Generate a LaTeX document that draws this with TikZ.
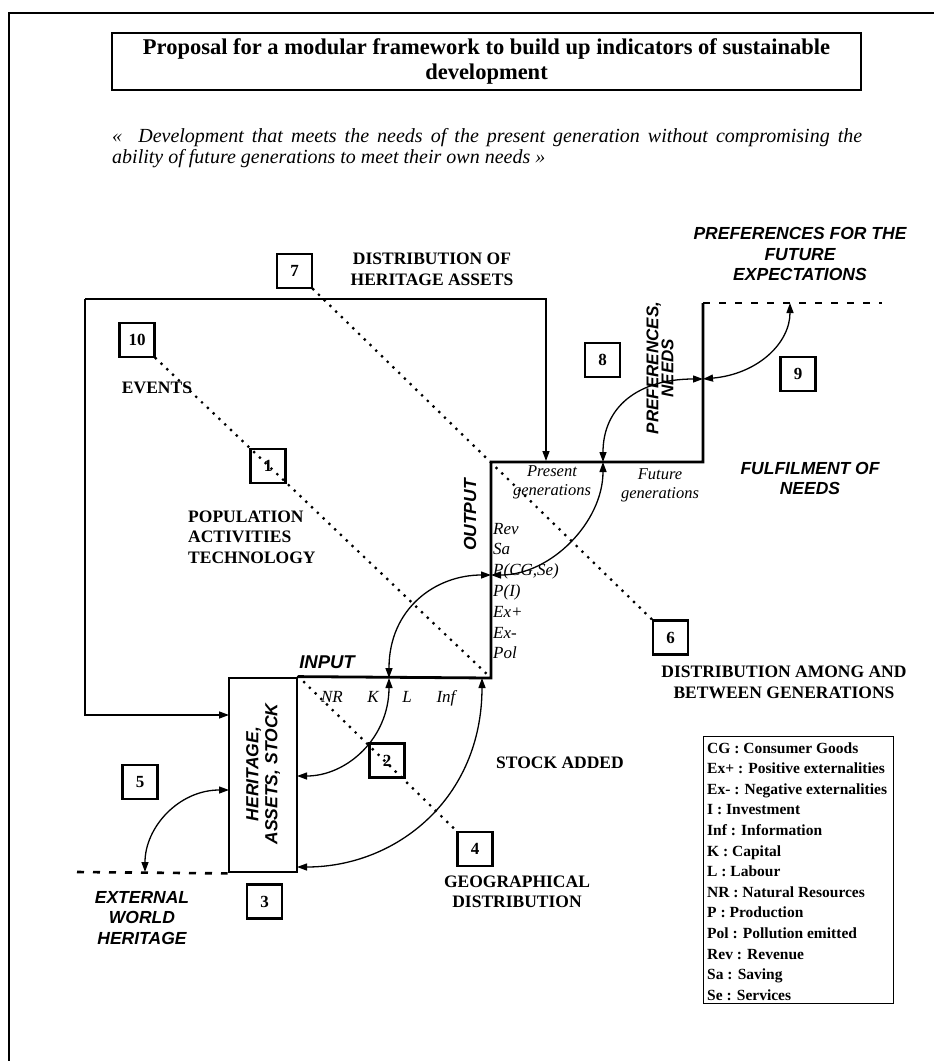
\documentclass[tikz,border=0pt]{standalone}
\usepackage{fontspec}
\setmainfont{Liberation Serif}
\setsansfont{Liberation Sans}
\usetikzlibrary{arrows.meta}
\tikzset{
  numbox/.style={draw, line width=2.4pt, minimum width=35pt, minimum height=34pt, inner sep=0pt, font=\fontsize{17}{17}\selectfont\bfseries},
  caps/.style={font=\fontsize{17.5}{20.5}\selectfont\bfseries, align=center, inner sep=0pt},
  capsf/.style={font=\fontsize{17.5}{20.5}\selectfont\sffamily\bfseries\itshape, align=center, inner sep=0pt},
  varlbl/.style={font=\fontsize{17}{20}\selectfont\itshape, inner sep=0pt},
  flow/.style={line width=2.8pt},
  feed/.style={line width=1.4pt, -{Triangle[length=10pt,width=7pt]}},
  link/.style={line width=1.3pt, {Triangle[length=10pt,width=7pt]}-{Triangle[length=10pt,width=7pt]}},
  dotline/.style={line width=3.2pt, line cap=round, dash pattern=on 0pt off 8pt},
  dashline/.style={line width=2.6pt, dash pattern=on 7pt off 9pt}
}

\begin{document}
\begin{tikzpicture}[x=1pt,y=-1pt]
  \useasboundingbox (0,0) rectangle (934,1061);
  \draw[line width=1.5pt] (9,1061) -- (9,13) -- (934,13);

  % title and quote
  \node[draw, line width=1.6pt, minimum width=749pt, minimum height=57pt, align=center,
        font=\fontsize{22.5}{25}\selectfont\bfseries] (title) at (486.5,61.5)
        {Proposal for a modular framework to build up indicators of sustainable\\development};
  \node[anchor=north west, inner sep=0pt, text width=750pt, align=justify,
        font=\fontsize{20}{21}\selectfont\itshape] (quote) at (112,128)
        {«\ \ Development that meets the needs of the present generation without compromising the\linebreak
         ability of future generations to meet their own needs »};

  % points on the main line
  \coordinate (corner1) at (491,678);
  \coordinate (corner2) at (491,462);
  \coordinate (corner3) at (703,462);
  \coordinate (corner4) at (703,303);
  \coordinate (futend) at (882,303);
  \coordinate (extend) at (77,872);
  \coordinate (jK) at (389,678);
  \coordinate (jInf) at (482,678);
  \coordinate (jP) at (491,575);
  \coordinate (jPres) at (603,462);
  \coordinate (jPref) at (703,379);
  \coordinate (jExp) at (790,303);
  \coordinate (fbleft) at (85,299);
  \coordinate (fbright) at (546,299);
  \coordinate (presin) at (546,461);
  \coordinate (fbin) at (229,715);

  % heritage box
  \node[draw, line width=2.8pt, minimum width=68pt, minimum height=194pt, inner sep=0pt] (herit) at (263,775) {};
  \node[capsf, rotate=90, font=\fontsize{17.5}{19}\selectfont\sffamily\bfseries\itshape] (heritlbl) at (263,774) {HERITAGE,\\ASSETS, STOCK};
  \coordinate (hK) at (297,776);
  \coordinate (hInf) at (297,867);
  \coordinate (hExt) at (229,790);
  \coordinate (wExt) at (145,872);

  \draw[flow] (herit.north east) -- (corner1) -- (corner2) -- (corner3) -- (corner4);
  \draw[dashline] (corner4) -- (futend);
  \draw[dashline] (extend) -- (herit.south west);

  % feedback of heritage assets
  \draw[feed] (fbleft) -- (fbright) -- (presin);
  \draw[feed] (fbleft) -- (fbleft |- fbin) -- (fbin);

  % numbered boxes
  \foreach \n/\p in {7/{294.5,271}, 10/{137,340}, 1/{268,466}, 8/{602.5,360}, 9/{798,374},
                     6/{670.5,637.5}, 2/{387,760.5}, 4/{475,849}, 5/{140,782}, 3/{264.5,901.5}}
    \node[numbox] (box\n) at (\p) {\n};

  % dotted links
  \draw[dotline] (box7.south east) -- (box6.north west);
  \draw[dotline] (box10.south east) -- (corner1);
  \draw[dotline] (herit.north east) -- (box4.north west);

  % two-way arrows
  \draw[link] (jK) .. controls +(0,-70) and +(-55,0) .. (jP);
  \draw[link] (jP) .. controls +(60,0) and +(0,60) .. (jPres);
  \draw[link] (jPres) .. controls +(0,-55) and +(-65,0) .. (jPref);
  \draw[link] (jPref) .. controls +(55,-5) and +(0,40) .. (jExp);
  \draw[link] (jK) .. controls +(0,60) and +(50,0) .. (hK);
  \draw[link] (jInf) .. controls +(0,120) and +(100,0) .. (hInf);
  \draw[link] (hExt) .. controls +(-50,0) and +(0,-45) .. (wExt);

  % labels
  \node[caps] (distherit) at (432,269.5) {DISTRIBUTION OF\\HERITAGE ASSETS};
  \node[caps] (events) at (157,388) {EVENTS};
  \node[caps, align=left, anchor=west] (popul) at (188,537) {POPULATION\\ACTIVITIES\\TECHNOLOGY};
  \node[capsf, rotate=90] (outlbl) at (470,515) {OUTPUT};
  \node[capsf, font=\fontsize{18.5}{20}\selectfont\sffamily\bfseries\itshape] (inlbl) at (327,662) {INPUT};
  \node[capsf, rotate=90, font=\fontsize{17}{15}\selectfont\sffamily\bfseries\itshape] (prefs) at (660,368) {PREFERENCES,\\NEEDS};
  \node[capsf] (expect) at (800,254) {PREFERENCES FOR THE\\FUTURE\\EXPECTATIONS};
  \node[capsf] (fulfil) at (810,478.5) {FULFILMENT OF\\NEEDS};
  \node[caps] (stock) at (560,763) {STOCK ADDED};
  \node[caps] (geog) at (517,892) {GEOGRAPHICAL\\DISTRIBUTION};
  \node[caps] (distgen) at (784,682.5) {DISTRIBUTION AMONG AND\\BETWEEN GENERATIONS};
  \node[capsf] (world) at (142,918) {EXTERNAL\\WORLD\\HERITAGE};

  \node[varlbl, align=center, font=\fontsize{16.5}{19}\selectfont\itshape] (present) at (552,482) {Present\\generations};
  \node[varlbl, align=center, font=\fontsize{16.5}{19}\selectfont\itshape] (future) at (660,485) {Future\\generations};

  \foreach \i/\t in {0/Rev, 1/Sa, 2/{P(CG,Se)}, 3/{P(I)}, 4/{Ex+}, 5/{Ex-}, 6/Pol}
    \node[varlbl, anchor=base west] (out\i) at (493,534+\i*20.8) {\t};
  \foreach \t/\x in {NR/332, K/373, L/407, Inf/446}
    \node[varlbl, anchor=base] (in\t) at (\x,702) {\t};

  % legend
  \node[draw, line width=1.2pt, anchor=north west, minimum width=190pt, minimum height=267pt, inner sep=0pt] (legend) at (703,736) {};
  \foreach \i/\t in {0/{CG : Consumer Goods}, 1/{Ex+ : Positive externalities}, 2/{Ex- : Negative externalities},
                     3/{I : Investment}, 4/{Inf : Information}, 5/{K : Capital}, 6/{L : Labour},
                     7/{NR : Natural Resources}, 8/{P : Production}, 9/{Pol : Pollution emitted},
                     10/{Rev : Revenue}, 11/{Sa : Saving}, 12/{Se : Services}}
    \node[anchor=base west, inner sep=0pt, font=\fontsize{15.5}{17}\selectfont\bfseries] (leg\i) at (707,753+\i*20.6) {\t};
\end{tikzpicture}
\end{document}
